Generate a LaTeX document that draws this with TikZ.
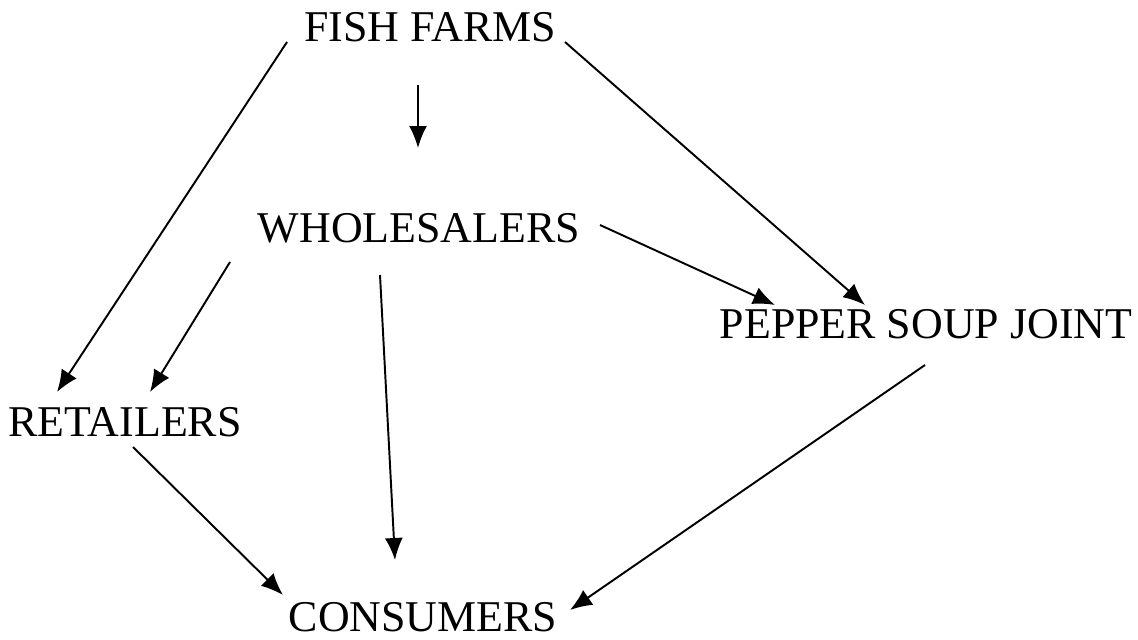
\documentclass[tikz,border=0pt]{standalone}
\usepackage{fontspec}
\setmainfont{Liberation Serif}
\usetikzlibrary{arrows.meta,positioning}

\begin{document}
\begin{tikzpicture} [
    x = 0.02cm, y = -0.02cm,
    every node/.style = { inner sep = 0, font = \fontsize{25}{29}\selectfont },
    flow/.style = { line width = 1.1pt, -{Latex[length=4.4mm, width=3.6mm]} }
    ]
    \useasboundingbox (0,0) rectangle (1138,639);

    \node (farms) at (430,27) {FISH FARMS};
    \node (whole) at (419,228) {WHOLESALERS};
    \node (pepper) at (926,324) {PEPPER SOUP JOINT};
    \node (retail) at (125,422) {RETAILERS};
    \node (cons) at (423,617) {CONSUMERS};

    \draw [flow] ([shift={(-143,15)}]farms.center) -- ([shift={(-68,-30)}]retail.center);
    \draw [flow] ([shift={(-12,58)}]farms.center) -- ([shift={(-1,-80)}]whole.center);
    \draw [flow] ([shift={(135,15)}]farms.center) -- ([shift={(-61,-19)}]pepper.center);
    \draw [flow] ([shift={(181,-3)}]whole.center) -- ([shift={(-151,-19)}]pepper.center);
    \draw [flow] ([shift={(-189,34)}]whole.center) -- ([shift={(25,-30)}]retail.center);
    \draw [flow] ([shift={(-39,47)}]whole.center) -- ([shift={(-28,-57)}]cons.center);
    \draw [flow] ([shift={(8,25)}]retail.center) -- ([shift={(-140,-22)}]cons.center);
    \draw [flow] ([shift={(-1,41)}]pepper.center) -- ([shift={(147,-7)}]cons.center);
\end{tikzpicture}
\end{document}
